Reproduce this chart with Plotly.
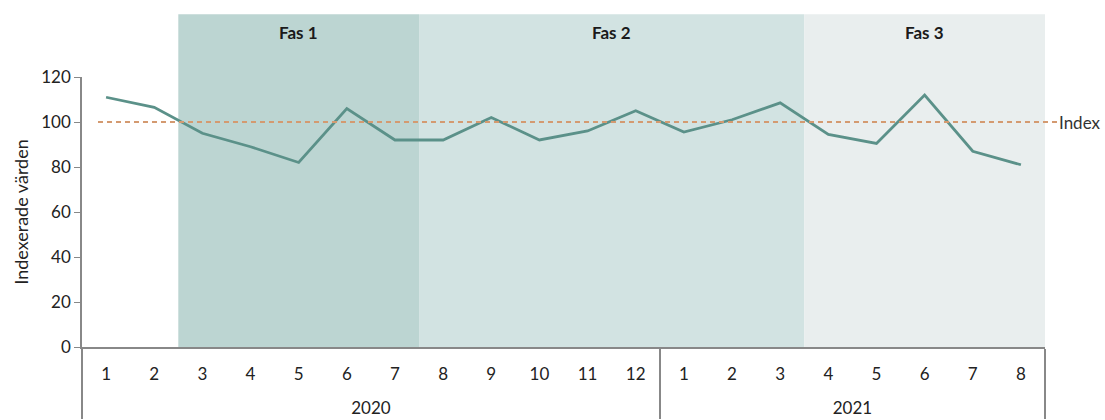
import plotly.graph_objects as go

# Monthly index values, Jan 2020 - Aug 2021
years = ["2020"] * 12 + ["2021"] * 8
months = [str(m) for m in range(1, 13)] + [str(m) for m in range(1, 9)]
values = [111, 106.5, 95, 89, 82, 106, 92, 92, 102, 92, 96, 105,
          95.5, 101, 108.5, 94.5, 90.5, 112, 87, 81]

index_level = 100
phase_names = ["Fas 1", "Fas 2", "Fas 3"]
phase_starts = [1.5, 6.5, 14.5]   # category positions (boundaries between months)
phase_ends = [6.5, 14.5, 19.5]
phase_colors = ["#bcd5d2", "#d2e3e2", "#e9eeee"]

FONT = "Lato, 'Open Sans', sans-serif"

# year labels sit one line lower under the month row
year_labels = ["<br>" + y for y in years]

fig = go.Figure()

fig.add_trace(go.Scatter(
    x=[year_labels, months],
    y=values,
    mode="lines",
    line=dict(color="#5b9189", width=2.8),
    showlegend=False,
    hoverinfo="y",
))

# Phase background bands
for name, x0, x1, col in zip(phase_names, phase_starts, phase_ends, phase_colors):
    fig.add_shape(type="rect", xref="x", yref="paper",
                  x0=x0, x1=x1, y0=0, y1=1.232,
                  fillcolor=col, line=dict(width=0), layer="below")
    fig.add_annotation(xref="x", yref="paper", x=(x0 + x1) / 2, y=1.163,
                       yanchor="middle",
                       text="<b>" + name + "</b>", showarrow=False,
                       font=dict(family=FONT, size=17, color="#1a1a1a"))

# Index reference line
fig.add_shape(type="line", xref="paper", yref="y",
              x0=0.0166, x1=1.0125, y0=index_level, y1=index_level,
              line=dict(color="#d49a70", width=2, dash="5px,4px"))
fig.add_annotation(xref="paper", yref="y", x=1.0125, y=index_level,
                   text="Index", showarrow=False, xanchor="left",
                   font=dict(family=FONT, size=17, color="#333333"))

fig.update_layout(
    width=1105, height=420,
    margin=dict(l=82, r=60, t=77, b=73),
    plot_bgcolor="white", paper_bgcolor="white",
    font=dict(family=FONT, size=17, color="#222222"),
    showlegend=False,
)

fig.update_xaxes(
    type="multicategory",
    range=[-0.5, 19.5],
    automargin=False,
    showgrid=False, zeroline=False,
    showline=True, linecolor="#888888", linewidth=1.5,
    ticks="",
    ticklabelstandoff=11,
    showdividers=True, dividercolor="#888888", dividerwidth=1.5,
    tickfont=dict(family=FONT, size=17, color="#222222"),
)

fig.update_yaxes(
    range=[0, 120],
    tickvals=[0, 20, 40, 60, 80, 100, 120],
    automargin=False,
    showgrid=False, zeroline=False,
    showline=True, linecolor="#888888", linewidth=1.5,
    ticks="outside", ticklen=6, tickcolor="#888888",
    tickfont=dict(family=FONT, size=17, color="#222222"),
    title=dict(text="Indexerade värden", font=dict(family=FONT, size=18, color="#222222"),
               standoff=8),
)

fig.write_html("out.html")
